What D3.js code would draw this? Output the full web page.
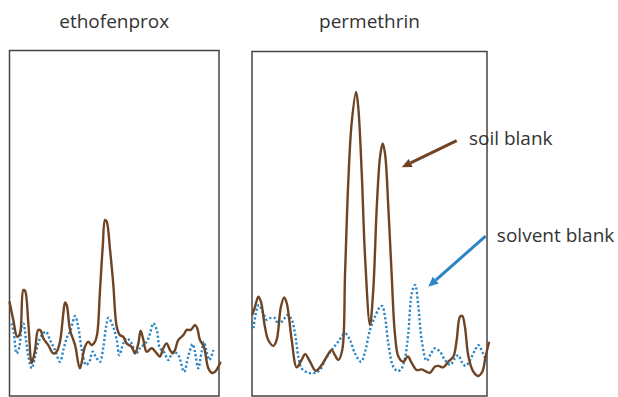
<!DOCTYPE html>
<html>
<head>
<meta charset="utf-8">
<script src="https://cdn.jsdelivr.net/npm/d3@7"></script>
<style>
  body { margin: 0; background: #fff; }
  svg text { font-family: "Open Sans", "Noto Sans", sans-serif; fill: #333; }
</style>
</head>
<body>
<div id="chart"></div>
<script>
// retention time (0-100 across the panel) and detector signal (0-100)
const ethoSoilT = [0, 1.8, 3.7, 5.0, 6.6, 7.4, 9.0, 10.6, 12.2, 13.7, 14.9, 16.1, 18.5, 20.9, 22.5, 24.1, 25.7, 26.5, 27.3, 28.9, 31.3, 33.6, 36.0, 37.6, 39.2, 40.8, 41.9, 43.2, 44.5, 45.6, 46.4, 48.0, 49.5, 51.2, 52.7, 54.3, 55.9, 58.3, 59.9, 61.5, 62.6, 63.9, 65.5, 67.9, 70.3, 71.8, 73.4, 75.0, 76.6, 77.9, 79.0, 80.6, 83.0, 84.6, 86.5, 88.5, 89.6, 90.9, 92.8, 94.9, 96.5, 98.1, 100.8];
const ethoSoilV = [27.3, 22.0, 17.1, 18.1, 30.6, 30.4, 21.0, 9.5, 13.3, 19.1, 18.9, 16.7, 14.7, 12.3, 12.8, 15.7, 23.9, 27.0, 26.3, 19.1, 14.7, 8.0, 14.2, 15.7, 14.7, 15.7, 18.1, 30.6, 43.1, 50.9, 50.4, 42.2, 32.6, 20.0, 17.6, 17.1, 15.2, 14.2, 12.3, 15.2, 18.9, 16.2, 12.8, 13.8, 12.3, 11.4, 13.8, 15.2, 13.3, 12.3, 13.3, 16.2, 17.6, 19.1, 19.1, 20.5, 19.6, 16.2, 14.2, 8.0, 6.7, 7.0, 9.9];

const ethoSolvT = [1.0, 2.1, 3.4, 4.7, 5.8, 6.6, 7.9, 9.0, 10.6, 12.2, 13.7, 15.4, 17.4, 19.3, 21.7, 24.1, 25.7, 27.3, 29.2, 31.3, 32.8, 34.5, 36.5, 38.1, 39.7, 41.6, 43.2, 44.8, 46.1, 47.2, 49.5, 51.2, 52.4, 54.3, 55.9, 58.3, 60.4, 62.3, 65.5, 67.1, 68.6, 70.3, 71.8, 73.7, 75.8, 78.2, 80.6, 83.3, 85.3, 87.4, 88.5, 90.1, 91.7, 92.8, 94.1, 95.4, 97.3];
const ethoSolvV = [21.0, 18.1, 12.3, 14.2, 20.0, 21.0, 16.2, 11.4, 8.0, 11.4, 15.2, 17.6, 18.6, 16.2, 13.3, 9.9, 13.3, 16.7, 19.1, 23.1, 20.0, 13.3, 9.0, 9.9, 12.8, 10.9, 9.9, 14.2, 20.0, 22.6, 20.0, 16.2, 11.8, 15.2, 16.7, 15.2, 12.3, 13.8, 15.7, 18.1, 21.0, 19.1, 13.8, 12.8, 10.4, 12.8, 11.8, 7.0, 11.4, 15.0, 12.8, 8.0, 12.8, 15.7, 12.8, 10.4, 13.3];

const permSoilT = [0.1, 1.3, 2.7, 3.8, 5.5, 6.9, 9.1, 10.5, 12.3, 13.7, 14.8, 16.9, 19.0, 21.1, 22.6, 24.7, 27.1, 29.7, 31.8, 33.9, 35.3, 36.7, 38.4, 39.6, 41.0, 42.4, 44.3, 45.2, 46.7, 48.1, 50.2, 51.6, 53.1, 54.5, 55.6, 56.6, 58.0, 59.4, 60.8, 62.3, 64.4, 66.3, 68.0, 70.1, 72.2, 74.3, 75.7, 77.9, 79.3, 81.4, 83.5, 85.7, 87.1, 88.5, 89.5, 90.6, 92.1, 94.2, 96.3, 98.0, 99.4, 100.9];
const permSoilV = [23.4, 25.8, 28.7, 27.3, 20.0, 16.2, 14.5, 16.2, 25.8, 28.5, 26.8, 16.2, 8.3, 10.4, 12.1, 9.9, 7.3, 9.0, 11.4, 13.3, 11.8, 10.4, 13.3, 35.5, 62.4, 78.8, 87.9, 83.6, 64.4, 40.3, 20.5, 30.6, 54.7, 69.2, 73.0, 70.1, 54.7, 35.5, 18.1, 11.4, 9.9, 11.4, 9.5, 7.5, 7.7, 7.0, 6.7, 8.5, 8.7, 8.3, 9.9, 11.4, 16.2, 22.9, 23.1, 20.0, 11.4, 7.0, 5.8, 7.0, 11.4, 15.7];

const permSolvT = [0.6, 2.0, 3.0, 4.8, 6.3, 7.7, 9.8, 11.2, 13.3, 15.2, 16.9, 18.3, 19.7, 21.1, 24.0, 26.8, 28.9, 31.1, 33.9, 36.7, 39.6, 41.7, 43.8, 46.4, 48.1, 50.2, 52.3, 54.5, 55.4, 56.6, 58.0, 60.1, 62.0, 63.7, 65.1, 66.5, 68.0, 69.4, 70.8, 72.2, 74.3, 76.2, 77.9, 80.0, 82.1, 84.3, 86.4, 87.8, 89.2, 90.9, 92.8, 94.9, 96.3, 98.0, 99.9];
const permSolvV = [19.6, 24.9, 26.3, 23.9, 22.0, 22.5, 22.5, 20.5, 22.0, 23.4, 22.0, 18.1, 11.4, 8.0, 6.7, 6.7, 7.5, 10.4, 13.3, 15.7, 18.1, 16.2, 12.3, 9.9, 12.8, 19.1, 22.9, 25.8, 26.0, 22.9, 15.2, 8.5, 7.2, 8.0, 10.9, 18.1, 29.7, 32.1, 25.8, 16.2, 10.2, 12.3, 13.8, 12.8, 10.4, 9.0, 10.9, 11.8, 9.9, 8.7, 10.4, 13.3, 14.7, 12.8, 9.9];

const panelTitles = ["ethofenprox", "permethrin"];
const seriesNames = ["soil blank", "solvent blank"];

const width = 618, height = 397;
const soilColor = "#6e4424";
const solvColor = "#2b86c6";

const svg = d3.select("#chart").append("svg")
  .attr("width", width)
  .attr("height", height);

const panels = [
  {title: panelTitles[0], left: 9.5, right: 219, top: 50.5,
   soil: ethoSoilT.map((t, i) => [t, ethoSoilV[i]]),
   solv: ethoSolvT.map((t, i) => [t, ethoSolvV[i]])},
  {title: panelTitles[1], left: 252, right: 487, top: 51.5,
   soil: permSoilT.map((t, i) => [t, permSoilV[i]]),
   solv: permSolvT.map((t, i) => [t, permSolvV[i]])}
];
const bottom = 396;

const y = d3.scaleLinear().domain([0, 100]).range([bottom, 50]);

panels.forEach(p => {
  p.x = d3.scaleLinear().domain([0, 100]).range([p.left, p.right]);
  const g = svg.append("g");

  g.append("rect")
    .attr("x", p.left)
    .attr("y", p.top)
    .attr("width", p.right - p.left)
    .attr("height", bottom - p.top)
    .attr("fill", "none")
    .attr("stroke", "#444")
    .attr("stroke-width", 1.5);

  g.append("text")
    .attr("x", (p.left + p.right) / 2)
    .attr("y", 28)
    .attr("text-anchor", "middle")
    .style("font-size", "19px")
    .text(p.title);

  const line = d3.line()
    .curve(d3.curveCatmullRom.alpha(0.5))
    .x(d => p.x(d[0]))
    .y(d => y(d[1]));

  g.append("path")
    .datum(p.solv)
    .attr("d", line)
    .attr("fill", "none")
    .attr("stroke", solvColor)
    .attr("stroke-width", 2.4)
    .attr("stroke-dasharray", "2.2,2.2");

  g.append("path")
    .datum(p.soil)
    .attr("d", line)
    .attr("fill", "none")
    .attr("stroke", soilColor)
    .attr("stroke-width", 2.4);
});

// annotation arrows, placed in permethrin panel data units
const px = panels[1].x;
const notes = [
  {name: seriesNames[0], color: soilColor, from: [87.1, 73.8], to: [63.7, 66.1], label: [92.3, 72.5]},
  {name: seriesNames[1], color: solvColor, from: [99.4, 46.2], to: [75.0, 31.6], label: [104.2, 44.6]}
];

notes.forEach(n => {
  const x1 = px(n.from[0]), y1 = y(n.from[1]);
  const x2 = px(n.to[0]), y2 = y(n.to[1]);
  const ang = Math.atan2(y2 - y1, x2 - x1);
  const headLen = 10, headW = 4.5;
  const bx = x2 - headLen * Math.cos(ang), by = y2 - headLen * Math.sin(ang);

  svg.append("line")
    .attr("x1", x1).attr("y1", y1)
    .attr("x2", bx).attr("y2", by)
    .attr("stroke", n.color)
    .attr("stroke-width", 3);

  svg.append("path")
    .attr("d", `M${x2},${y2}L${bx + headW * Math.sin(ang)},${by - headW * Math.cos(ang)}L${bx - headW * Math.sin(ang)},${by + headW * Math.cos(ang)}Z`)
    .attr("fill", n.color);

  svg.append("text")
    .attr("x", px(n.label[0]))
    .attr("y", y(n.label[1]))
    .style("font-size", "19px")
    .text(n.name);
});
</script>
</body>
</html>
